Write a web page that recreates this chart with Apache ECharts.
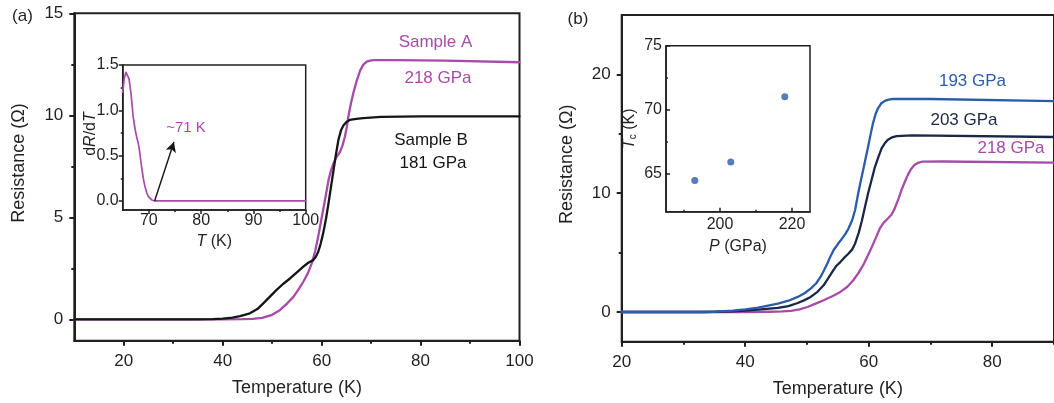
<!DOCTYPE html>
<html>
<head>
<meta charset="utf-8">
<script src="https://cdn.jsdelivr.net/npm/echarts@6/dist/echarts.min.js"></script>
<style>html,body{margin:0;padding:0;background:#fff}#c{width:1054px;height:403px}</style>
</head>
<body>
<div id="c"></div>
<script>
// ---------- Panel (a) main data ----------
const aTempA = [10, 40, 44, 46, 48, 50, 51.6, 53, 54.3, 55.3, 56.3, 57.2, 58, 58.7, 59.3, 59.8, 60.3, 60.9, 61.4, 61.9, 62.4, 63, 63.7, 64.2, 64.7, 65.1, 65.4, 65.9, 66.4, 67.1, 67.8, 68.4, 69.1, 69.8, 70.5, 75, 85, 100];
const aResA  = [0, 0, 0.005, 0.02, 0.07, 0.22, 0.46, 0.77, 1.1, 1.45, 1.84, 2.25, 2.74, 3.35, 4.05, 4.7, 5.36, 6.15, 6.83, 7.3, 7.65, 7.95, 8.2, 8.5, 8.95, 9.45, 9.93, 10.55, 11.08, 11.7, 12.2, 12.47, 12.63, 12.68, 12.7, 12.7, 12.68, 12.6];
const aTempB = [10, 35, 38, 40, 42, 43.5, 45.5, 47, 48.2, 49.5, 50.9, 52.2, 53.6, 55, 56.3, 57.3, 58.3, 58.8, 59.3, 59.8, 60.3, 60.9, 61.4, 61.9, 62.4, 62.9, 63.4, 63.9, 64.4, 65, 65.7, 67, 68.4, 72, 80, 100];
const aResB  = [0, 0, 0.01, 0.03, 0.08, 0.15, 0.29, 0.5, 0.78, 1.1, 1.44, 1.73, 2.0, 2.3, 2.58, 2.77, 2.9, 3.05, 3.3, 3.7, 4.2, 4.95, 5.7, 6.5, 7.3, 8.1, 8.8, 9.25, 9.5, 9.67, 9.77, 9.82, 9.86, 9.92, 9.95, 9.95];
// ---------- Panel (a) inset: dR/dT ----------
const insTemp = [65, 65.3, 65.6, 65.9, 66.2, 66.6, 67.0, 67.4, 67.7, 68.0, 68.2, 68.6, 69.0, 69.3, 69.6, 69.9, 70.2, 70.6, 71.1, 100];
const insDRdT = [1.2, 1.35, 1.42, 1.41, 1.35, 1.18, 0.93, 0.78, 0.7, 0.63, 0.56, 0.38, 0.23, 0.15, 0.09, 0.05, 0.03, 0.01, 0.0, 0.0];
const arrowFrom = [71.1, 0];
const arrowTo = [74.8, 0.65];
// ---------- Panel (b) main data ----------
const bTemp193 = [20, 33, 35, 38, 40, 42.1, 45.3, 47, 48.5, 49.6, 50.6, 51.5, 52.2, 52.8, 53.3, 53.8, 54.3, 55, 55.7, 56.2, 56.7, 57.3, 57.8, 58.3, 58.7, 59.1, 59.5, 59.9, 60.3, 60.7, 61.1, 61.5, 62, 62.6, 63.2, 63.9, 70, 90];
const bRes193  = [0, 0, 0.02, 0.12, 0.22, 0.37, 0.71, 0.95, 1.27, 1.58, 1.97, 2.42, 2.95, 3.55, 4.08, 4.68, 5.2, 5.72, 6.2, 6.55, 7.0, 7.7, 8.6, 10.0, 11.0, 11.95, 12.95, 13.9, 14.95, 15.9, 16.65, 17.15, 17.55, 17.77, 17.88, 17.93, 17.93, 17.75];
const bTemp203 = [20, 33, 36, 38, 40, 42.1, 45.3, 47, 48.5, 49.6, 50.6, 51.7, 52.7, 53.4, 54.1, 54.7, 55.4, 56, 56.7, 57.3, 57.8, 58.4, 58.9, 59.4, 59.9, 60.5, 61.0, 61.6, 62.1, 62.6, 63.1, 63.8, 64.5, 67, 90];
const bRes203  = [0, 0, 0.02, 0.05, 0.11, 0.2, 0.34, 0.5, 0.76, 1.0, 1.27, 1.7, 2.25, 2.8, 3.37, 3.85, 4.2, 4.55, 4.9, 5.25, 5.77, 6.7, 7.7, 8.85, 10.0, 11.2, 12.2, 13.1, 13.8, 14.2, 14.5, 14.7, 14.8, 14.87, 14.73];
const bTemp218 = [20, 40, 44, 46, 47.4, 48.8, 50.1, 51.4, 52.7, 54.1, 55.4, 56.5, 57.5, 58.3, 59.1, 59.8, 60.5, 61.2, 61.8, 62.4, 63.1, 63.7, 64.2, 64.8, 65.3, 65.8, 66.3, 66.8, 67.4, 68, 68.7, 72, 90];
const bRes218  = [0, 0, 0.02, 0.05, 0.1, 0.22, 0.42, 0.7, 0.99, 1.33, 1.69, 2.1, 2.67, 3.25, 3.94, 4.7, 5.48, 6.3, 7.03, 7.5, 7.87, 8.2, 8.7, 9.5, 10.26, 10.9, 11.5, 12.0, 12.37, 12.56, 12.65, 12.67, 12.57];
// ---------- Panel (b) inset: Tc vs P ----------
const pressures = [193, 203, 218];
const tcValues = [64.45, 65.9, 71.0];
// ---------- Tick labels ----------
const aXLabels = [20, 40, 60, 80, 100], aXMinor = [30, 50, 70, 90];
const aYLabels = [0, 5, 10, 15], aYMinor = [2.5, 7.5, 12.5];
const iaXLabels = [70, 80, 90, 100], iaXMinor = [75, 85, 95];
const iaYLabels = [0, 0.5, 1.0, 1.5], iaYMinor = [0.25, 0.75, 1.25];
const bXLabels = [20, 40, 60, 80], bXMinor = [30, 50, 70, 90];
const bYLabels = [0, 10, 20], bYMinor = [5, 15];
const ibXLabels = [200, 220], ibXMinor = [190, 210];
const ibYLabels = [65, 70, 75], ibYMinor = [67.5, 72.5];

const zip = (xs, ys) => xs.map((x, i) => [x, ys[i]]);
const FONT = "'Liberation Sans', Arial, sans-serif";
const AX = '#231f20';
const PURPLE = '#a64ca8', BLUE = '#2b5ca9', NAVY = '#1b2748', BLACK = '#151515';

function majorAxis(dim, grid, min, max, labels, o) {
  return {
    type: 'value', gridIndex: grid, min: min, max: max,
    position: dim === 'x' ? 'bottom' : 'left',
    axisLine: { show: true, onZero: false, lineStyle: { color: AX, width: o.lw } },
    axisTick: { show: true, inside: !!o.inside, length: o.tick, customValues: labels, lineStyle: { color: AX, width: o.lw } },
    axisLabel: { show: true, customValues: labels, margin: o.margin, color: AX, fontSize: o.fs, fontFamily: FONT,
                 formatter: o.fmt || (v => String(v)) },
    splitLine: { show: false },
    name: o.name, nameLocation: 'middle', nameGap: o.nameGap, nameMoveOverlap: false,
    nameTextStyle: Object.assign({ color: AX, fontSize: o.nfs, fontFamily: FONT }, o.nts || {})
  };
}
function minorAxis(dim, grid, min, max, ticks, o) {
  return {
    type: 'value', gridIndex: grid, min: min, max: max,
    position: dim === 'x' ? 'bottom' : 'left',
    axisLine: { show: false, onZero: false },
    axisTick: { show: true, inside: !!o.inside, length: o.tick, customValues: ticks, lineStyle: { color: AX, width: o.lw } },
    axisLabel: { show: false }, splitLine: { show: false }
  };
}
const rich16 = {
  i: { fontStyle: 'italic', fontSize: 16, fontFamily: FONT, color: AX },
  n: { fontSize: 16, fontFamily: FONT, color: AX },
  s: { fontSize: 10, fontFamily: FONT, color: AX, padding: [7, 0, 0, 0] }
};

const chart = echarts.init(document.getElementById('c'), null, { renderer: 'canvas' });
const lineSeries = (xi, yi, xs, ys, color, w) => ({
  type: 'line', xAxisIndex: xi, yAxisIndex: yi, data: zip(xs, ys), showSymbol: false, smooth: false,
  lineStyle: { color: color, width: w, join: 'round', cap: 'round' }, itemStyle: { color: color }
});
const txt = (t, x, y, color, fs) => ({ type: 'text', style: { text: t, x: x, y: y, align: 'center', verticalAlign: 'middle', fill: color, fontSize: fs, fontFamily: FONT } });

const option = {
  animation: false,
  backgroundColor: '#fff',
  grid: [
    { left: 74.3, top: 13.3, width: 445.2, height: 327.4, show: true, borderColor: AX, borderWidth: 2, backgroundColor: 'transparent' },
    { left: 122.7, top: 65, width: 183, height: 145, show: true, borderColor: AX, borderWidth: 1.5, backgroundColor: '#fff' },
    { left: 621.7, top: 15, width: 438.2, height: 326.7, show: true, borderColor: AX, borderWidth: 2, backgroundColor: 'transparent' },
    { left: 666, top: 45.7, width: 144, height: 166, show: true, borderColor: AX, borderWidth: 1.5, backgroundColor: '#fff' }
  ],
  xAxis: [
    majorAxis('x', 0, 10, 100, aXLabels, { lw: 2, tick: 5, margin: 12, fs: 17, name: 'Temperature (K)', nameGap: 38, nfs: 18 }),
    minorAxis('x', 0, 10, 100, aXMinor, { lw: 2, tick: 3 }),
    majorAxis('x', 1, 65, 100, iaXLabels, { lw: 1.5, tick: 4, margin: 3, fs: 16,
      name: '{i|T} {n|(K)}', nameGap: 24, nfs: 16, nts: { rich: rich16 } }),
    minorAxis('x', 1, 65, 100, iaXMinor, { lw: 1.5, tick: 2 }),
    majorAxis('x', 2, 20, 90, bXLabels, { lw: 2, tick: 5, margin: 12, fs: 17, name: 'Temperature (K)', nameGap: 38, nfs: 18 }),
    minorAxis('x', 2, 20, 90, bXMinor, { lw: 2, tick: 3 }),
    majorAxis('x', 3, 185, 225, ibXLabels, { lw: 1.5, tick: 4, inside: true, margin: 5, fs: 16,
      name: '{i|P} {n|(GPa)}', nameGap: 27, nfs: 16, nts: { rich: rich16 } }),
    minorAxis('x', 3, 185, 225, ibXMinor, { lw: 1.5, tick: 2, inside: true })
  ],
  yAxis: [
    majorAxis('y', 0, -1.05, 15, aYLabels, { lw: 2, tick: 5, margin: 11, fs: 17, name: 'Resistance (Ω)', nameGap: 46, nfs: 18,
      nts: { padding: [0, 0, 0, 28] } }),
    minorAxis('y', 0, -1.05, 15, aYMinor, { lw: 2, tick: 3 }),
    majorAxis('y', 1, -0.1, 1.5, iaYLabels, { lw: 1.5, tick: 4, margin: 4, fs: 16, fmt: v => v.toFixed(1),
      name: '{n|d}{i|R}{n|/d}{i|T}', nameGap: 24, nfs: 16, nts: { padding: [0, 0, 0, 7], rich: rich16 } }),
    minorAxis('y', 1, -0.1, 1.5, iaYMinor, { lw: 1.5, tick: 2 }),
    majorAxis('y', 2, -2.5, 25, bYLabels, { lw: 2, tick: 5, margin: 11, fs: 17, name: 'Resistance (Ω)', nameGap: 46, nfs: 18,
      nts: { padding: [0, 0, 0, 28] } }),
    minorAxis('y', 2, -2.5, 25, bYMinor, { lw: 2, tick: 3 }),
    majorAxis('y', 3, 62, 75, ibYLabels, { lw: 1.5, tick: 4, inside: true, margin: 4, fs: 16,
      name: '{i|T}{s|c}{n| (K)}', nameGap: 28, nfs: 16, nts: { rich: rich16 } }),
    minorAxis('y', 3, 62, 75, ibYMinor, { lw: 1.5, tick: 2, inside: true })
  ],
  series: [
    lineSeries(0, 0, aTempA, aResA, PURPLE, 2.3),
    lineSeries(0, 0, aTempB, aResB, BLACK, 2.3),
    Object.assign(lineSeries(2, 2, insTemp, insDRdT, PURPLE, 1.7), {
      markLine: { silent: true, symbol: ['none', 'arrow'], symbolSize: [8, 10], animation: false,
        label: { show: false }, lineStyle: { color: BLACK, width: 1.4, type: 'solid' },
        data: [[{ coord: arrowFrom }, { coord: arrowTo }]] } }),
    lineSeries(4, 4, bTemp218, bRes218, PURPLE, 2.3),
    lineSeries(4, 4, bTemp203, bRes203, NAVY, 2.3),
    lineSeries(4, 4, bTemp193, bRes193, BLUE, 2.3),
    { type: 'scatter', xAxisIndex: 6, yAxisIndex: 6, data: zip(pressures, tcValues), symbolSize: 7,
      itemStyle: { color: BLUE } }
  ],
  graphic: [
    txt('(a)', 22.5, 16, AX, 17),
    txt('(b)', 578, 19, AX, 17),
    txt('Sample A', 435.5, 42, PURPLE, 17),
    txt('218 GPa', 438, 78, PURPLE, 17),
    txt('Sample B', 431, 140, BLACK, 17),
    txt('181 GPa', 433, 163, BLACK, 17),
    txt('~71 K', 186, 128, PURPLE, 15),
    txt('193 GPa', 972.5, 81.7, BLUE, 17),
    txt('203 GPa', 964, 120, NAVY, 17),
    txt('218 GPa', 1011, 148, PURPLE, 17)
  ]
};
chart.setOption(option);
</script>
</body>
</html>
